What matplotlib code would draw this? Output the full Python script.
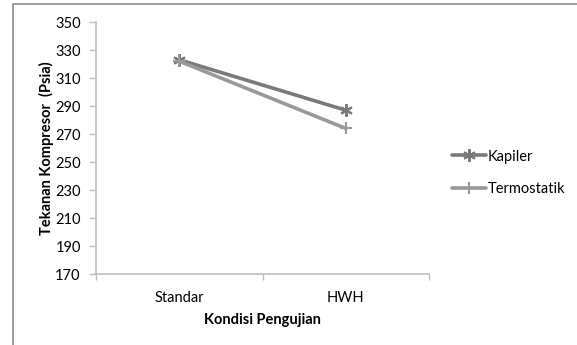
import matplotlib.pyplot as plt
from matplotlib.patches import Rectangle

plt.rcParams['font.family'] = ['Lato', 'DejaVu Sans']

# data
kondisi = ['Standar', 'HWH']
kapiler = [323, 287]
termostatik = [322, 274]
y_ticks = list(range(170, 351, 20))

W, H = 577, 345
fig = plt.figure(figsize=(W / 100, H / 100), dpi=100)
ax = fig.add_axes([96 / W, 1 - 274 / H, (429 - 96) / W, (274 - 22) / H])

x = [0.5, 1.5]
ax.plot(x, kapiler, color='#7a7a7a', lw=2.6, marker=(6, 2, 0), ms=9, mew=1.5,
        label='Kapiler', solid_capstyle='round')
ax.plot(x, termostatik, color='#9a9a9a', lw=2.6, marker='+', ms=9, mew=1.5,
        label='Termostatik', solid_capstyle='round')

ax.set_xlim(0, 2)
ax.set_ylim(170, 350)
ax.set_yticks(y_ticks)
ax.set_xticks([0, 1, 2])
ax.set_xticklabels([])
ax.set_xticks(x, minor=True)
ax.set_xticklabels(kondisi, minor=True)
ax.tick_params(axis='x', which='minor', length=0, pad=12, labelsize=10.5)
ax.tick_params(axis='x', which='major', length=4, color='#bfbfbf', width=1)
ax.tick_params(axis='y', length=5, color='#bfbfbf', width=1, labelsize=10.5, pad=6)

for s in ['top', 'right']:
    ax.spines[s].set_visible(False)
for s in ['left', 'bottom']:
    ax.spines[s].set_color('#bfbfbf')
    ax.spines[s].set_linewidth(1.2)

ax.set_xlabel('Kondisi Pengujian', fontweight='bold', fontsize=10.5, labelpad=6)
ax.set_ylabel('Tekanan Kompresor  (Psia)', fontweight='bold', fontsize=10.5, labelpad=1)

ax.legend(loc='center left', bbox_to_anchor=(452 / W, 1 - 173 / H),
          bbox_transform=fig.transFigure, frameon=False, borderpad=0, borderaxespad=0,
          fontsize=10.5, handlelength=2.3, handletextpad=0.15, labelspacing=1.3)

# outer frame, right and bottom edges fall outside the canvas
fig.patches.append(Rectangle((13 / W, -0.1), 1.2, 1.1 - 4 / H, transform=fig.transFigure,
                             fill=False, edgecolor='#8c8c8c', lw=1.2))

fig.savefig('out.png', dpi=100)
